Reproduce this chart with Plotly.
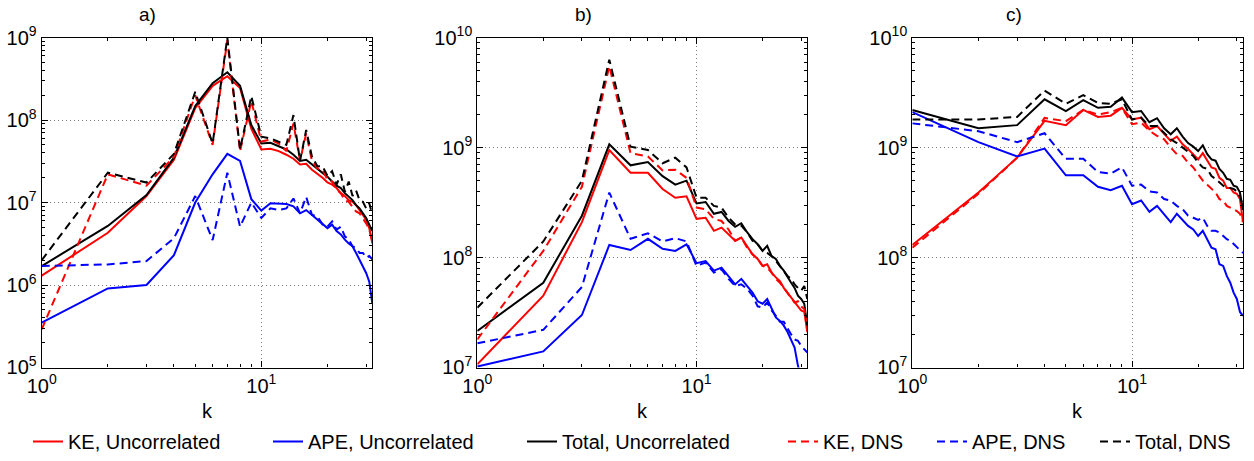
import math
import plotly.graph_objects as go

W, H = 1254, 461

K = list(range(1, 33))

# ---- panel a) ----
A_KE_U = [1.3e6, 4.3e6, 1.2e7, 3.3e7, 1.4e8, 2.6e8, 3.4e8, 2.45e8, 7.9e7, 4.4e7, 4.5e7, 4.2e7, 3.8e7, 3.4e7, 2.9e7, 2.95e7,
          2.5e7, 2.25e7, 2.0e7, 1.75e7, 1.65e7, 1.5e7, 1.3e7, 1.2e7, 1.07e7, 1.02e7, 9.3e6, 8.1e6, 7.1e6, 6.2e6, 4.9e6, 3.2e6]
A_APE_U = [3.5e5, 9.1e5, 1.0e6, 2.3e6, 1.0e7, 2.2e7, 3.9e7, 3.2e7, 1.1e7, 8.0e6, 9.8e6, 9.6e6, 9.6e6, 9.0e6, 7.4e6, 8.1e6,
           7.1e6, 6.3e6, 5.6e6, 4.9e6, 5.4e6, 4.5e6, 4.1e6, 3.55e6, 3.2e6, 2.95e6, 2.45e6, 2.05e6, 1.7e6, 1.4e6, 1.1e6, 6.0e5]
A_TOT_U = [1.7e6, 5.2e6, 1.23e7, 3.5e7, 1.48e8, 2.8e8, 3.8e8, 2.6e8, 8.7e7, 5.2e7, 5.3e7, 4.8e7, 4.4e7, 3.8e7, 3.2e7, 3.3e7,
           2.9e7, 2.6e7, 2.3e7, 2.05e7, 1.8e7, 1.6e7, 1.5e7, 1.3e7, 1.18e7, 1.07e7, 9.3e6, 8.5e6, 7.4e6, 6.5e6, 5.4e6, 4.5e6]
A_KE_D = [2.9e5, 2.2e7, 1.6e7, 3.6e7, 2.0e8, 5.0e7, 9.3e8, 4.2e7, 1.7e8, 5.5e7, 5.8e7, 5.2e7, 4.2e7, 9.1e7, 3.2e7, 6.9e7,
          3.2e7, 2.6e7, 2.5e7, 1.9e7, 1.8e7, 1.43e7, 1.3e7, 1.07e7, 1.02e7, 8.9e6, 7.8e6, 7.4e6, 6.5e6, 5.6e6, 4.7e6, 3.4e6]
A_APE_D = [1.7e6, 1.78e6, 1.95e6, 3.7e6, 1.2e7, 3.5e6, 2.3e7, 5.1e6, 1.0e7, 6.5e6, 8.5e6, 8.1e6, 8.5e6, 1.12e7, 7.4e6, 1.17e7,
           7.1e6, 6.8e6, 5.4e6, 5.1e6, 5.9e6, 4.7e6, 5.1e6, 3.9e6, 3.55e6, 2.95e6, 2.8e6, 2.45e6, 2.45e6, 2.15e6, 2.25e6, 2.05e6]
A_TOT_D = [2.0e6, 2.3e7, 1.75e7, 3.9e7, 2.2e8, 5.2e7, 1.0e9, 4.4e7, 1.95e8, 6.3e7, 6.0e7, 5.5e7, 5.0e7, 1.15e8, 3.2e7, 7.6e7,
           3.6e7, 2.75e7, 2.75e7, 2.1e7, 2.4e7, 1.65e7, 2.2e7, 1.35e7, 1.8e7, 1.2e7, 1.4e7, 1.07e7, 1.02e7, 8.5e6, 9.8e6, 7.1e6]

# ---- panel b) ----
B_KE_U = [1.07e7, 4.5e7, 2.1e8, 9.5e8, 5.9e8, 5.9e8, 4.2e8, 3.5e8, 3.6e8, 2.25e8, 2.3e8, 1.75e8, 1.87e8, 1.63e8, 1.42e8, 1.52e8,
          1.28e8, 1.07e8, 9.7e7, 8.4e7, 8.7e7, 7.3e7, 6.6e7, 6.1e7, 5.3e7, 4.8e7, 4.3e7, 3.9e7, 3.6e7, 3.3e7, 3.2e7, 2.1e7]
B_APE_U = [1.02e7, 1.4e7, 3.0e7, 1.3e8, 1.17e8, 1.48e8, 1.2e8, 1.15e8, 1.32e8, 8.9e7, 9.3e7, 7.6e7, 8.1e7, 6.8e7, 5.7e7, 6.4e7,
           5.5e7, 4.8e7, 4.0e7, 3.8e7, 4.2e7, 3.4e7, 2.85e7, 2.65e7, 2.4e7, 2.1e7, 1.75e7, 1.52e7, 1.04e7, 8.3e6, 6.3e6, 5.0e6]
B_TOT_U = [2.15e7, 5.9e7, 2.4e8, 1.07e9, 6.9e8, 7.4e8, 5.5e8, 4.6e8, 5.0e8, 3.1e8, 3.2e8, 2.5e8, 2.6e8, 2.15e8, 1.9e8, 2.05e8,
           1.7e8, 1.47e8, 1.32e8, 1.15e8, 1.28e8, 1.03e8, 9.7e7, 8.4e7, 7.6e7, 6.6e7, 5.9e7, 5.3e7, 4.5e7, 4.2e7, 3.8e7, 2.4e7]
B_KE_D = [1.8e7, 1.15e8, 4.4e8, 5.5e9, 8.9e8, 8.3e8, 6.2e8, 6.3e8, 5.3e8, 2.85e8, 2.75e8, 2.25e8, 2.15e8, 1.8e8, 1.42e8, 1.52e8,
          1.23e8, 1.07e8, 9.7e7, 8.4e7, 8.1e7, 7.3e7, 6.4e7, 5.9e7, 5.3e7, 4.8e7, 4.3e7, 3.9e7, 4.0e7, 3.6e7, 3.4e7, 2.6e7]
B_APE_D = [1.66e7, 2.2e7, 5.4e7, 3.9e8, 1.48e8, 1.66e8, 1.4e8, 1.5e8, 1.4e8, 8.4e7, 9.0e7, 7.3e7, 7.8e7, 6.4e7, 5.5e7, 5.7e7,
           5.2e7, 4.5e7, 3.6e7, 3.5e7, 3.9e7, 3.3e7, 2.95e7, 2.6e7, 2.6e7, 2.25e7, 2.0e7, 1.8e7, 1.75e7, 1.57e7, 1.47e7, 1.37e7]
B_TOT_D = [3.5e7, 1.4e8, 5.0e8, 6.3e9, 1.02e9, 9.5e8, 7.2e8, 8.1e8, 6.6e8, 3.5e8, 3.5e8, 2.95e8, 2.85e8, 2.3e8, 2.0e8, 1.95e8,
           1.7e8, 1.42e8, 1.32e8, 1.15e8, 1.1e8, 1.03e8, 9.3e7, 8.4e7, 7.6e7, 6.8e7, 6.4e7, 5.7e7, 5.3e7, 5.0e7, 5.5e7, 4.2e7]

# ---- panel c) ----
C_KE_U = [1.3e8, 3.9e8, 8.1e8, 1.75e9, 1.6e9, 2.2e9, 1.9e9, 1.95e9, 2.3e9, 1.8e9, 1.87e9, 1.47e9, 1.57e9, 1.32e9, 1.15e9, 1.26e9,
          1.07e9, 9.7e8, 8.7e8, 7.8e8, 8.9e8, 7.6e8, 6.6e8, 6.4e8, 5.3e8, 5.0e8, 4.3e8, 4.3e8, 3.9e8, 3.8e8, 3.4e8, 2.1e8]
C_APE_U = [2.1e9, 1.12e9, 8.3e8, 9.8e8, 5.6e8, 5.6e8, 4.4e8, 4.1e8, 4.5e8, 3.05e8, 3.3e8, 2.6e8, 2.95e8, 2.5e8, 2.1e8, 2.5e8,
           2.2e8, 1.94e8, 1.8e8, 1.57e8, 1.75e8, 1.47e8, 1.23e8, 1.19e8, 8.7e7, 8.4e7, 6.8e7, 5.9e7, 4.8e7, 4.2e7, 3.2e7, 2.95e7]
C_TOT_U = [2.2e9, 1.5e9, 1.6e9, 2.75e9, 2.15e9, 2.7e9, 2.3e9, 2.35e9, 2.85e9, 2.1e9, 2.15e9, 1.7e9, 1.85e9, 1.5e9, 1.32e9, 1.5e9,
           1.26e9, 1.1e9, 1.02e9, 9.3e8, 1.05e9, 8.7e8, 7.8e8, 7.6e8, 6.4e8, 5.9e8, 5.2e8, 5.1e8, 4.5e8, 4.4e8, 3.9e8, 2.7e8]
C_KE_D = [1.23e8, 3.8e8, 8.1e8, 1.86e9, 1.74e9, 2.2e9, 2.0e9, 2.1e9, 2.3e9, 1.63e9, 1.69e9, 1.42e9, 1.28e9, 1.19e9, 1.0e9, 8.7e8,
          8.4e8, 7.3e8, 6.6e8, 5.7e8, 5.0e8, 4.6e8, 4.2e8, 3.9e8, 3.4e8, 3.3e8, 2.95e8, 2.85e8, 2.75e8, 2.65e8, 2.5e8, 2.1e8]
C_APE_D = [1.66e9, 1.41e9, 1.12e9, 1.35e9, 7.9e8, 7.9e8, 6.0e8, 5.8e8, 6.6e8, 4.5e8, 4.6e8, 4.0e8, 3.9e8, 3.4e8, 3.3e8, 2.95e8,
           2.75e8, 2.4e8, 2.3e8, 2.2e8, 2.3e8, 1.94e8, 1.75e8, 1.75e8, 1.69e8, 1.57e8, 1.47e8, 1.42e8, 1.32e8, 1.23e8, 1.15e8, 1.1e8]
C_TOT_D = [1.8e9, 1.8e9, 1.9e9, 3.3e9, 2.5e9, 3.0e9, 2.55e9, 2.5e9, 2.75e9, 1.8e9, 1.87e9, 1.57e9, 1.57e9, 1.37e9, 1.19e9, 1.1e9,
           1.0e9, 9.3e8, 8.4e8, 7.3e8, 6.6e8, 6.4e8, 5.5e8, 5.2e8, 4.8e8, 4.5e8, 4.3e8, 4.3e8, 4.2e8, 4.0e8, 3.6e8, 2.95e8]

SERIES_NAMES = ["KE, Uncorrelated", "APE, Uncorrelated", "Total, Uncorrelated",
                "KE, DNS", "APE, DNS", "Total, DNS"]
PANEL_TITLES = ["a)", "b)", "c)"]
Y_EXP = [(5, 9), (7, 10), (7, 10)]
X_MAX = 32

PANELS = [
    [A_KE_U, A_APE_U, A_TOT_U, A_KE_D, A_APE_D, A_TOT_D],
    [B_KE_U, B_APE_U, B_TOT_U, B_KE_D, B_APE_D, B_TOT_D],
    [C_KE_U, C_APE_U, C_TOT_U, C_KE_D, C_APE_D, C_TOT_D],
]

COLORS = ["#ff0000", "#0000ff", "#000000", "#ff0000", "#0000ff", "#000000"]
DASHES = ["solid", "solid", "solid", "8px,5px", "8px,5px", "8px,5px"]

FONT = "Liberation Sans, Arial, Helvetica, sans-serif"

# pixel layout of the three axes boxes
X_PIX = [(41.7, 372.3), (477.3, 807.3), (912.3, 1243.0)]
Y_PIX = (37.7, 368.3)
TITLE_X = [147, 583, 1014]
LEG_LINE_X = [32, 272, 526, 787, 936, 1099]
LEG_Y = 442

fig = go.Figure()

legend_ids = ["legend", "legend2", "legend3", "legend4", "legend5", "legend6"]

for p, series in enumerate(PANELS):
    xa = "x" if p == 0 else f"x{p + 1}"
    ya = "y" if p == 0 else f"y{p + 1}"
    for i, vals in enumerate(series):
        fig.add_trace(go.Scatter(
            x=K, y=vals, mode="lines", name=SERIES_NAMES[i],
            line=dict(color=COLORS[i], width=2, dash=DASHES[i]),
            xaxis=xa, yaxis=ya,
            showlegend=(p == 0), legend=legend_ids[i],
            hoverinfo="skip",
        ))

layout = dict(
    width=W, height=H,
    margin=dict(l=0, r=0, t=0, b=0, pad=0),
    paper_bgcolor="white", plot_bgcolor="white",
    font=dict(family=FONT, size=20, color="black"),
    showlegend=True,
)

y0 = 1 - Y_PIX[1] / H
y1 = 1 - Y_PIX[0] / H

for p in range(3):
    sx = "" if p == 0 else str(p + 1)
    lo, hi = Y_EXP[p]
    yt = [10.0 ** e for e in range(lo, hi + 1)]
    ytt = [f"10<sup>{e}</sup>" for e in range(lo, hi + 1)]
    yminor = [m * 10.0 ** e for e in range(lo, hi) for m in range(2, 10)]
    xt = [1, 10]
    xtt = ["10<sup>0</sup>", "10<sup>1</sup>"]
    xminor = [m * 10.0 ** e for e in range(0, 2) for m in range(2, 10) if m * 10.0 ** e <= X_MAX]
    common = dict(
        showline=True, linecolor="black", linewidth=1.2, mirror="allticks",
        ticks="inside", ticklen=6, tickwidth=1, tickcolor="black",
        showgrid=True, gridcolor="#7a7a7a", griddash="1px,3px", gridwidth=1,
        zeroline=False, automargin=False,
        tickfont=dict(family=FONT, size=20, color="black"),
    )
    layout[f"xaxis{sx}"] = dict(
        type="log", range=[0, math.log10(X_MAX)],
        domain=[X_PIX[p][0] / W, X_PIX[p][1] / W],
        anchor=f"y{sx}",
        tickmode="array", tickvals=xt, ticktext=xtt,
        minor=dict(tickmode="array", tickvals=xminor, ticks="inside", ticklen=3,
                   tickcolor="black", showgrid=False),
        **common,
    )
    layout[f"yaxis{sx}"] = dict(
        type="log", range=[lo, hi],
        domain=[y0, y1],
        anchor=f"x{sx}",
        tickmode="array", tickvals=yt, ticktext=ytt,
        minor=dict(tickmode="array", tickvals=yminor, ticks="inside", ticklen=3,
                   tickcolor="black", showgrid=False),
        **common,
    )

annotations = []
for p in range(3):
    annotations.append(dict(
        text=PANEL_TITLES[p], x=TITLE_X[p] / W, y=1 - 15 / H, xref="paper", yref="paper",
        showarrow=False, xanchor="center", yanchor="middle",
        font=dict(family=FONT, size=19, color="black"),
    ))
    annotations.append(dict(
        text="k", x=(X_PIX[p][0] + X_PIX[p][1]) / 2 / W, y=1 - 412 / H, xref="paper", yref="paper",
        showarrow=False, xanchor="center", yanchor="middle",
        font=dict(family=FONT, size=20, color="black"),
    ))
layout["annotations"] = annotations

for i, lid in enumerate(legend_ids):
    layout[lid] = dict(
        x=(LEG_LINE_X[i] - 4) / W, y=1 - LEG_Y / H,
        xanchor="left", yanchor="middle", orientation="h",
        bgcolor="rgba(0,0,0,0)", borderwidth=0,
        font=dict(family=FONT, size=20, color="black"),
        itemwidth=30,
    )

fig.update_layout(**layout)
fig.write_html("out.html")
